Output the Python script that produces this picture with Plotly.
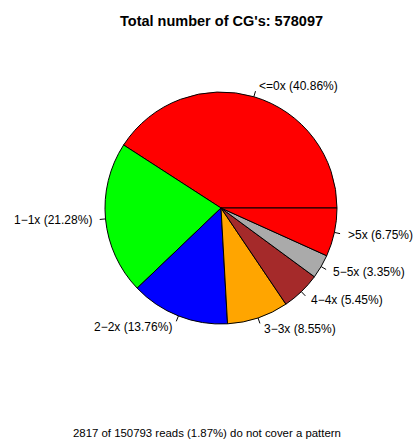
import math
import plotly.graph_objects as go

categories = ["<=0x", "1\u22121x", "2\u22122x", "3\u22123x", "4\u22124x", "5\u22125x", ">5x"]
percents = [40.86, 21.28, 13.76, 8.55, 5.45, 3.35, 6.75]
colors = ["#FF0000", "#00FF00", "#0000FF", "#FFA500", "#A52A2A", "#AAAAAA", "#FF0000"]
title_text = "Total number of CG's: 578097"
footer_text = "2817 of 150793 reads (1.87%) do not cover a pattern"

W, H = 414, 442
cx, cy, R = 221, 208, 116  # pie centre / radius in pixels

total = sum(percents)
# plotly (counterclockwise): rotation marks the counterclockwise edge of the first slice;
# R starts the first slice at 3 o'clock going counterclockwise.
rotation = 90 - 360 * percents[0] / total

fig = go.Figure(go.Pie(
    labels=categories,
    values=percents,
    marker=dict(colors=colors, line=dict(color="black", width=1)),
    sort=False,
    direction="counterclockwise",
    rotation=rotation,
    textinfo="none",
    hoverinfo="label+percent",
    showlegend=False,
    domain=dict(x=[(cx - R) / W, (cx + R) / W], y=[(H - cy - R) / H, (H - cy + R) / H]),
))

def px(x):
    return x / W

def py(y):
    return 1 - y / H

cum = 0.0
annotations = []
shapes = []
for lab, v in zip(categories, percents):
    mid = 2 * math.pi * (cum + v / 2) / total
    cum += v
    c, s = math.cos(mid), math.sin(mid)
    shapes.append(dict(type="line", xref="paper", yref="paper",
                       x0=px(cx + R * c), y0=py(cy - R * s),
                       x1=px(cx + 1.05 * R * c), y1=py(cy - 1.05 * R * s),
                       line=dict(color="black", width=1)))
    annotations.append(dict(xref="paper", yref="paper",
                            x=px(cx + 1.1 * R * c), y=py(cy - 1.1 * R * s),
                            text=f"{lab} ({v:.2f}%)", showarrow=False,
                            xanchor="right" if c < 0 else "left", yanchor="middle",
                            font=dict(family="Liberation Sans, Arial", size=12, color="black")))

annotations.append(dict(xref="paper", yref="paper", x=px(221), y=py(21),
                        text=f"<b>{title_text}</b>", showarrow=False,
                        xanchor="center", yanchor="middle",
                        font=dict(family="Liberation Sans, Arial", size=14.5, color="black")))
annotations.append(dict(xref="paper", yref="paper", x=px(207), y=py(433),
                        text=footer_text, showarrow=False,
                        xanchor="center", yanchor="middle",
                        font=dict(family="Liberation Sans, Arial", size=11.4, color="black")))

fig.update_layout(width=W, height=H, margin=dict(l=0, r=0, t=0, b=0),
                  paper_bgcolor="white", plot_bgcolor="white",
                  annotations=annotations, shapes=shapes)
fig.write_html("out.html", config={"displayModeBar": False},
               post_script="document.body.style.margin='0';document.body.style.overflow='hidden';")
